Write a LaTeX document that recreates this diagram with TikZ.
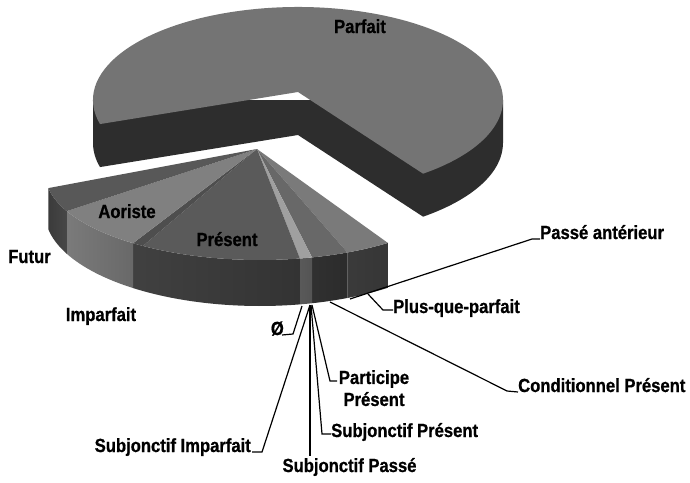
\documentclass[tikz,border=0pt]{standalone}
\usepackage{fontspec}
\newfontfamily\lblfont{Liberation Sans}[FakeStretch=0.875,BoldFeatures={FakeBold=0.8}]
\definecolor{ptopc}{HTML}{747474}
\definecolor{psidec}{HTML}{2D2D2D}
\newcommand{\wedgepart}[5]{%
  \shade[left color=#4, right color=#5]
    ({260+215*cos(#1)},{173+87*sin(#1)})
    arc[start angle=#1, end angle=#2, x radius=215, y radius=87]
    -- ({260+215*cos(#2)},{213+93*sin(#2)})
    arc[start angle=#2, end angle=#1, x radius=215, y radius=93] -- cycle;
  \fill[#3] (257,149) -- ({260+215*cos(#1)},{173+87*sin(#1)})
    arc[start angle=#1, end angle=#2, x radius=215, y radius=87] -- cycle;
}
\begin{document}
\begin{tikzpicture}[x=1pt,y=-1pt,
  lbl/.style={font=\lblfont\bfseries\fontsize{19}{22}\selectfont, inner sep=0pt, text=black},
  leader/.style={draw=black, line width=1.2pt}]
\useasboundingbox (0,0) rectangle (690,482);
\fill[white] (0,0) rectangle (690,482);

% ---- Parfait (big slice) ----
\fill[psidec] (93,100) -- (93,143)
  arc[start angle=180, end angle=165, x radius=205, y radius=93]
  -- (298,135) -- ({298+205*cos(52.4)},{143+93*sin(52.4)})
  arc[start angle=52.4, end angle=0, x radius=205, y radius=93]
  -- (503,100) -- cycle;
\fill[ptopc] (298,92) -- ({298+205*cos(165)},{100+93*sin(165)})
  arc[start angle=165, end angle=412.4, x radius=205, y radius=93] -- cycle;

% ---- exploded group ----
\wedgepart{53.5}{66}{fill={rgb,255:red,122;green,122;blue,122}}{black!77}{black!79}
\wedgepart{66}{76}{fill={rgb,255:red,104;green,104;blue,104}}{black!81}{black!83}
\wedgepart{76}{79.3}{fill={rgb,255:red,160;green,160;blue,160}}{black!65}{black!67}
\wedgepart{79.3}{123}{fill={rgb,255:red,90;green,90;blue,90}}{black!75}{black!80}
\wedgepart{123}{126.2}{fill={rgb,255:red,78;green,78;blue,78}}{black!75}{black!75}
\wedgepart{126.2}{154}{fill={rgb,255:red,128;green,128;blue,128}}{black!52}{black!59}
\wedgepart{154}{170}{fill={rgb,255:red,88;green,88;blue,88}}{black!77}{black!72}

% ---- labels inside / beside ----
\node[lbl, anchor=base] (parfait) at (360,33) {Parfait};
\node[lbl, anchor=base] (aoriste) at (127,218) {Aoriste};
\node[lbl, anchor=base] (present) at (227,246) {Présent};
\node[lbl, anchor=base] (futur) at (29.5,263) {Futur};
\node[lbl, anchor=base] (imparfait) at (101,321) {Imparfait};

% ---- leader anchors ----
\coordinate (pa0) at (350,299);
\coordinate (pa1) at (532,239);
\coordinate (pq0) at (368,294);
\coordinate (pq1) at (383,310);
\coordinate (cp0) at (330,302);
\coordinate (cp1) at (507,391);
\coordinate (o0) at (302,306);
\coordinate (o1) at (293,334);
\coordinate (si0) at (310,305);
\coordinate (si1) at (262,452);
\coordinate (sp0) at (310,305);
\coordinate (sp1) at (310,456);
\coordinate (sr0) at (311,305);
\coordinate (sr1) at (322,434);
\coordinate (pp0) at (312,305);
\coordinate (pp1) at (330,381);

% ---- outer labels ----
\node[lbl, anchor=base west] (passeant) at (540,239) {Passé antérieur};
\node[lbl, anchor=base west] (plusque) at (393,313) {Plus-que-parfait};
\node[lbl, anchor=base west] (condpres) at (518,392) {Conditionnel Présent};
\node[lbl, anchor=base east] (zero) at (284,335) {Ø};
\node[lbl, anchor=base east] (subjimp) at (251,452) {Subjonctif Imparfait};
\node[lbl, anchor=base] (subjpasse) at (349.5,472) {Subjonctif Passé};
\node[lbl, anchor=base west] (subjpres) at (331,437) {Subjonctif Présent};
\node[lbl, anchor=north, align=center] (partpres) at (374,370) {Participe\\Présent};

% ---- leaders ----
\draw[leader] (pa0) -- (pa1) -- (passeant.base west);
\draw[leader] (pq0) -- (pq1) -- ([yshift=3pt]plusque.base west);
\draw[leader] (cp0) -- (cp1) -- (condpres.base west);
\draw[leader] (o0) -- (o1) -- ([xshift=-2pt]zero.base east);
\draw[leader] (si0) -- (si1) -- ([xshift=1pt]subjimp.base east);
\draw[leader] (sp0) -- (sp1);
\draw[leader] (sr0) -- (sr1) -- ([yshift=3pt]subjpres.base west);
\draw[leader] (pp0) -- (pp1) -- (337,381);
\end{tikzpicture}
\end{document}
